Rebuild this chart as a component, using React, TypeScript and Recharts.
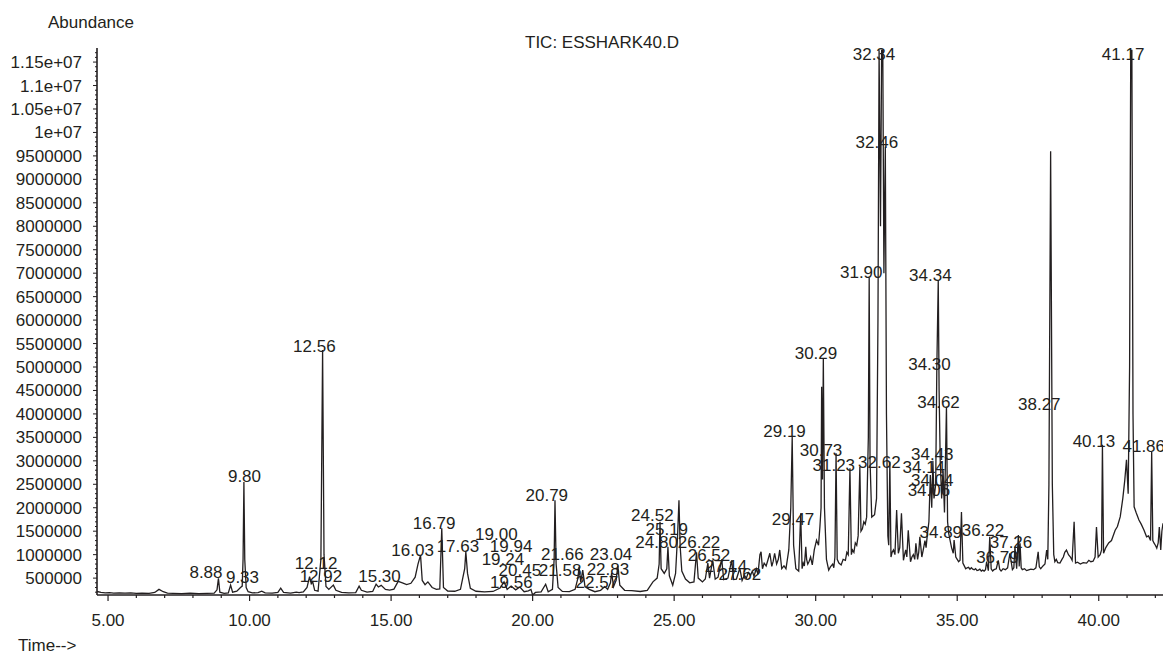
import React from "react";
import { ComposedChart, Line, Scatter, XAxis, YAxis } from "recharts";

const INK = "#231f20";
const FONT = "'Liberation Sans', Arial, Helvetica, sans-serif";

// TIC trace: [retention time (min), abundance in thousands]
const ticSamples: [number, number][] = [
  [4.61, 215], [4.75, 195], [4.9, 185], [5.05, 190], [5.2, 180], [5.4, 185], [5.6, 178], [5.8, 185],
  [6.0, 175], [6.2, 180], [6.45, 175], [6.65, 195], [6.8, 260], [6.95, 210], [7.1, 180], [7.3, 175],
  [7.6, 170], [7.9, 178], [8.2, 170], [8.5, 175], [8.75, 180], [8.85, 250], [8.9, 495], [8.95, 200],
  [9.1, 175], [9.25, 185], [9.33, 350], [9.4, 200], [9.55, 220], [9.68, 300], [9.74, 330], [9.77, 900],
  [9.8, 2550], [9.83, 900], [9.88, 300], [9.95, 210], [10.1, 185], [10.3, 190], [10.43, 220], [10.55, 185],
  [10.8, 180], [11.0, 195], [11.1, 285], [11.2, 195], [11.45, 180], [11.65, 200], [11.75, 190], [11.9, 205],
  [12.03, 300], [12.12, 530], [12.18, 380], [12.23, 420], [12.3, 240], [12.42, 220], [12.52, 900], [12.58, 5360],
  [12.63, 1000], [12.7, 320], [12.8, 260], [12.96, 350], [13.05, 240], [13.25, 195], [13.5, 185], [13.75, 190],
  [13.87, 330], [13.95, 240], [14.15, 200], [14.35, 215], [14.47, 370], [14.55, 310], [14.65, 345], [14.8, 260],
  [14.95, 245], [15.1, 265], [15.25, 430], [15.4, 400], [15.55, 360], [15.7, 390], [15.85, 520], [15.95, 800],
  [16.04, 990], [16.1, 450], [16.2, 360], [16.3, 420], [16.45, 300], [16.6, 260], [16.72, 270], [16.79, 1565],
  [16.85, 300], [17.0, 225], [17.25, 220], [17.45, 260], [17.6, 700], [17.64, 1060], [17.7, 600], [17.8, 280],
  [18.0, 220], [18.3, 205], [18.6, 215], [18.85, 290], [18.99, 420], [19.1, 260], [19.24, 330], [19.4, 250],
  [19.55, 310], [19.7, 210], [19.85, 230], [19.94, 260], [20.0, 140], [20.1, 195], [20.3, 205], [20.46, 370],
  [20.55, 210], [20.7, 260], [20.76, 900], [20.79, 2160], [20.83, 800], [20.9, 300], [21.05, 215], [21.3, 210],
  [21.5, 260], [21.6, 500], [21.64, 740], [21.7, 420], [21.77, 670], [21.85, 320], [22.0, 260], [22.2, 210],
  [22.4, 240], [22.55, 320], [22.65, 260], [22.75, 400], [22.79, 610], [22.86, 320], [22.95, 450], [23.01, 760],
  [23.08, 350], [23.25, 240], [23.5, 235], [23.8, 215], [24.05, 240], [24.25, 420], [24.4, 500], [24.47, 800],
  [24.5, 1700], [24.54, 700], [24.65, 600], [24.74, 700], [24.78, 1170], [24.83, 550], [24.95, 350], [25.05, 600],
  [25.12, 1400], [25.17, 2160], [25.21, 1200], [25.27, 650], [25.4, 480], [25.55, 400], [25.7, 420], [25.79, 1050],
  [25.85, 500], [26.0, 420], [26.1, 480], [26.19, 820], [26.25, 500], [26.36, 880], [26.45, 480], [26.55, 520],
  [26.68, 900], [26.75, 470], [26.9, 500], [27.03, 880], [27.1, 470], [27.2, 480], [27.32, 710], [27.4, 450],
  [27.48, 560], [27.55, 500], [27.62, 620], [27.7, 560], [27.76, 650], [27.82, 540], [27.9, 700], [27.96, 580],
  [28.03, 1000], [28.07, 1060], [28.12, 700], [28.18, 820], [28.25, 760], [28.31, 880], [28.38, 1030], [28.45, 750],
  [28.5, 860], [28.55, 1030], [28.62, 800], [28.68, 900], [28.73, 1100], [28.8, 700], [28.88, 760], [28.95, 700],
  [29.05, 1100], [29.12, 2000], [29.17, 3510], [29.22, 1200], [29.3, 700], [29.4, 650], [29.47, 1880], [29.52, 700],
  [29.56, 820], [29.6, 760], [29.65, 1170], [29.68, 900], [29.72, 800], [29.77, 860], [29.82, 950], [29.88, 780],
  [29.95, 1100], [30.03, 1310], [30.1, 1200], [30.15, 1600], [30.19, 2000], [30.21, 4580], [30.24, 2600], [30.27, 5180],
  [30.31, 2000], [30.38, 900], [30.46, 670], [30.52, 740], [30.6, 800], [30.64, 720], [30.68, 950], [30.72, 3160],
  [30.76, 900], [30.82, 820], [30.9, 780], [30.97, 900], [31.05, 880], [31.1, 1050], [31.15, 1000], [31.21, 2840],
  [31.26, 1000], [31.3, 1100], [31.35, 1050], [31.4, 1250], [31.45, 1200], [31.5, 1400], [31.56, 2870], [31.6, 1500],
  [31.65, 1550], [31.7, 1700], [31.75, 1650], [31.8, 1800], [31.86, 3500], [31.89, 6900], [31.92, 3000], [31.98, 1800],
  [32.08, 1850], [32.15, 2200], [32.2, 6000], [32.24, 11750], [32.29, 8000], [32.33, 11750], [32.37, 11750], [32.41, 7000],
  [32.46, 9700], [32.5, 4000], [32.55, 1400], [32.58, 1200], [32.62, 2980], [32.66, 950], [32.7, 1050], [32.75, 1100],
  [32.8, 1000], [32.86, 1950], [32.92, 1030], [32.97, 1150], [33.03, 1880], [33.1, 880], [33.14, 1000], [33.18, 1100],
  [33.22, 950], [33.27, 1520], [33.35, 850], [33.4, 950], [33.45, 1000], [33.5, 900], [33.54, 1240], [33.6, 900],
  [33.64, 1050], [33.68, 1380], [33.75, 950], [33.8, 1100], [33.86, 1300], [33.9, 1150], [33.95, 1460], [34.0, 1700],
  [34.05, 2700], [34.1, 2000], [34.14, 3000], [34.18, 2200], [34.24, 2500], [34.28, 5000], [34.33, 6850], [34.36, 4500],
  [34.4, 3000], [34.45, 2200], [34.5, 2800], [34.55, 1900], [34.62, 4150], [34.66, 1700], [34.7, 1450], [34.75, 1300],
  [34.8, 1150], [34.86, 1030], [34.89, 1310], [34.95, 950], [35.0, 900], [35.05, 850], [35.1, 880], [35.15, 1910],
  [35.2, 820], [35.25, 760], [35.3, 700], [35.35, 720], [35.4, 730], [35.45, 690], [35.5, 720], [35.55, 690],
  [35.6, 680], [35.65, 700], [35.7, 660], [35.75, 670], [35.8, 690], [35.85, 650], [35.9, 670], [35.95, 650],
  [36.0, 680], [36.04, 850], [36.1, 660], [36.15, 1380], [36.2, 700], [36.25, 650], [36.3, 680], [36.38, 700],
  [36.45, 880], [36.5, 690], [36.55, 650], [36.62, 700], [36.7, 680], [36.78, 720], [36.86, 1030], [36.95, 680],
  [37.0, 720], [37.04, 1170], [37.1, 700], [37.16, 1420], [37.19, 750], [37.22, 1240], [37.26, 720], [37.3, 680],
  [37.38, 700], [37.45, 660], [37.5, 670], [37.6, 690], [37.7, 680], [37.78, 720], [37.86, 1060], [37.9, 740],
  [37.95, 700], [38.03, 760], [38.1, 800], [38.16, 1100], [38.2, 900], [38.24, 2500], [38.3, 9600], [38.36, 2500],
  [38.41, 1000], [38.45, 850], [38.5, 900], [38.55, 830], [38.63, 820], [38.7, 900], [38.75, 950], [38.8, 1050],
  [38.86, 1100], [38.93, 1000], [39.0, 950], [39.06, 880], [39.13, 1700], [39.18, 820], [39.25, 840], [39.35, 800],
  [39.45, 830], [39.57, 820], [39.65, 880], [39.72, 850], [39.8, 860], [39.87, 950], [39.92, 1590], [39.98, 950],
  [40.05, 1000], [40.1, 1100], [40.13, 3340], [40.17, 1030], [40.25, 1150], [40.35, 1250], [40.45, 1300], [40.58, 1520],
  [40.66, 1600], [40.76, 1810], [40.85, 2200], [40.92, 2590], [40.98, 3020], [41.04, 2300], [41.09, 5000], [41.13, 11750],
  [41.17, 11750], [41.21, 4000], [41.25, 2020], [41.32, 1900], [41.42, 1740], [41.5, 1650], [41.6, 1520], [41.69, 1380],
  [41.76, 1400], [41.83, 1300], [41.87, 3190], [41.91, 1300], [41.95, 1250], [42.0, 1200], [42.05, 1140], [42.1, 1250],
  [42.14, 1590], [42.19, 1100], [42.23, 1500], [42.27, 1670],
];

// peak annotations: text, where the label sits (time, abundance of its baseline)
const peakNames = [
  "8.88", "9.33", "9.80", "12.12", "12.92", "12.56", "15.30", "16.03", "16.79", "17.63",
  "19.00", "19.94", "19.24", "20.45", "21.58", "19.56", "20.79", "21.66", "23.04", "22.83",
  "22.57", "24.52", "25.19", "24.80", "26.22", "26.52", "27.14", "27.62", "29.19", "29.47",
  "30.29", "30.73", "31.23", "32.62", "34.14", "34.43", "34.04", "34.06", "34.30", "34.62",
  "34.89", "36.22", "36.79", "37.26", "38.27", "40.13", "41.86", "41.17", "32.34", "32.46",
  "31.90", "34.34",
];
const peakLabelTimes = [
  8.46, 9.75, 9.82, 12.35, 12.52, 12.29, 14.59, 15.76, 16.52, 17.36,
  18.72, 19.24, 18.95, 19.55, 20.97, 19.25, 20.5, 21.05, 22.77, 22.66,
  22.27, 24.23, 24.74, 24.38, 25.88, 26.23, 26.83, 27.32, 28.9, 29.2,
  30.01, 30.19, 30.64, 32.25, 33.82, 34.12, 34.12, 34.0, 34.02, 34.34,
  34.42, 35.91, 36.42, 36.9, 37.9, 39.83, 41.59, 40.86, 32.06, 32.16,
  31.61, 34.05,
];
const peakLabelLevels = [
  500000, 393000, 2547000, 692000, 415000, 5318000, 415000, 969000, 1545000, 1054000,
  1310000, 1054000, 777000, 543000, 543000, 287000, 2142000, 884000, 884000, 564000,
  287000, 1715000, 1417000, 1140000, 1140000, 862000, 628000, 457000, 3506000, 1630000,
  5169000, 3101000, 2781000, 2845000, 2739000, 3016000, 2461000, 2248000, 4935000, 4124000,
  1353000, 1395000, 820000, 1140000, 4082000, 3293000, 3186000, 11544000, 11544000, 9668000,
  6896000, 6832000,
];

const timeLabels = [5, 10, 15, 20, 25, 30, 35, 40];
const timeMinorTicks = Array.from({ length: 38 }, (_, i) => 5 + i);
const abundanceLabels = [
  500000, 1000000, 1500000, 2000000, 2500000, 3000000, 3500000, 4000000, 4500000, 5000000,
  5500000, 6000000, 6500000, 7000000, 7500000, 8000000, 8500000, 9000000, 9500000, 10000000,
  10500000, 11000000, 11500000,
];
const abundanceMinorTicks = Array.from({ length: 116 }, (_, i) => 200000 + i * 100000);

const traceRows = ticSamples.map(([t, k]) => ({ t, a: k * 1000 }));
const labelRows = peakNames.map((text, i) => ({ t: peakLabelTimes[i], a: peakLabelLevels[i], text }));

function formatAbundance(v: number) {
  if (v >= 10000000) return `${v / 10000000}e+07`;
  return String(v);
}

function TimeTick(props: any) {
  const { x, y, payload } = props;
  const major = timeLabels.includes(payload.value);
  return (
    <g>
      <line x1={x} x2={x} y1={y} y2={y + (major ? 6 : 3)} stroke={INK} strokeWidth={1.2} />
      {major && (
        <text x={x} y={y + 31} textAnchor="middle" fontSize={17} fontFamily={FONT} fill={INK}>
          {payload.value.toFixed(2)}
        </text>
      )}
    </g>
  );
}

function AbundanceTick(props: any) {
  const { x, y, payload } = props;
  const major = abundanceLabels.includes(payload.value);
  return (
    <g>
      <line x1={x - (major ? 4 : 2)} x2={x} y1={y} y2={y} stroke={INK} strokeWidth={1} />
      {major && (
        <text x={x - 15} y={y + 6} textAnchor="end" fontSize={17} fontFamily={FONT} fill={INK}>
          {formatAbundance(payload.value)}
        </text>
      )}
    </g>
  );
}

function PeakLabel(props: any) {
  const { cx, cy, payload } = props;
  return (
    <text x={cx} y={cy} textAnchor="middle" fontSize={17} fontFamily={FONT} fill={INK}>
      {payload.text}
    </text>
  );
}

export default function App() {
  return (
    <div style={{ position: "relative", width: 1167, height: 657, overflow: "hidden", background: "#fff" }}>
      <style>{"body{margin:0}"}</style>
      <ComposedChart width={1167} height={657} margin={{ top: 48, right: 4, bottom: 0, left: 0 }}>
        <XAxis
          dataKey="t"
          type="number"
          domain={[4.61, 42.27]}
          allowDataOverflow
          ticks={timeMinorTicks}
          interval={0}
          height={62}
          tickSize={0}
          tickMargin={0}
          tickLine={false}
          axisLine={{ stroke: INK, strokeWidth: 1.6 }}
          tick={<TimeTick />}
        />
        <YAxis
          type="number"
          domain={[140000, 11800000]}
          allowDataOverflow
          ticks={abundanceMinorTicks}
          interval={0}
          width={97}
          tickSize={0}
          tickMargin={0}
          tickLine={false}
          axisLine={{ stroke: INK, strokeWidth: 1.6 }}
          tick={<AbundanceTick />}
        />
        <Line
          data={traceRows}
          dataKey="a"
          type="linear"
          stroke={INK}
          strokeWidth={1.3}
          dot={false}
          activeDot={false}
          isAnimationActive={false}
        />
        <Scatter data={labelRows} dataKey="a" shape={<PeakLabel />} isAnimationActive={false} />
      </ComposedChart>
      <svg width={1167} height={657} style={{ position: "absolute", left: 0, top: 0, pointerEvents: "none" }}>
        <text x={48} y={28} fontSize={17} fontFamily={FONT} fill={INK}>Abundance</text>
        <text x={602} y={48} textAnchor="middle" fontSize={17} fontFamily={FONT} fill={INK}>TIC: ESSHARK40.D</text>
        <text x={18} y={651} fontSize={17} fontFamily={FONT} fill={INK}>Time--&gt;</text>
      </svg>
    </div>
  );
}
